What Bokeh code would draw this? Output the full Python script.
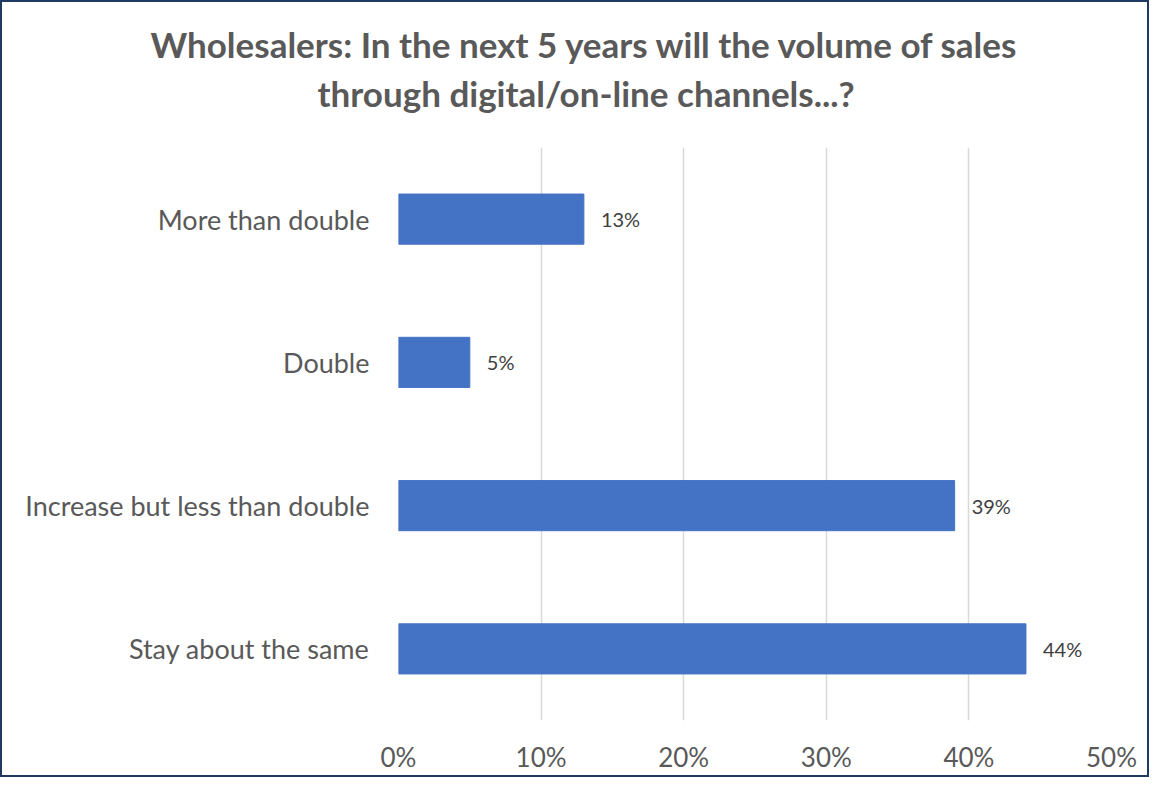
from bokeh.plotting import figure
from bokeh.models import FactorRange, Range1d, FixedTicker, ColumnDataSource, LabelSet, Title
from bokeh.core.properties import value
from bokeh.embed import file_html
from bokeh.resources import INLINE

categories = ["More than double", "Double", "Increase but less than double", "Stay about the same"]
values = [13, 5, 39, 44]
value_labels = ["13%", "5%", "39%", "44%"]
tick_values = [0, 10, 20, 30, 40, 50]
tick_labels = ["0%", "10%", "20%", "30%", "40%", "50%"]
title_lines = ["Wholesalers: In the next 5 years will the volume of sales",
               "through digital/on-line channels...?"]

FONT = "Lato"
GREY = "#595959"

ML, MR, MT, MB = 396, 36, 145, 55
FW, FH = 713, 573

src = ColumnDataSource(dict(cat=categories, val=values, lab=value_labels))

p = figure(frame_width=FW, frame_height=FH, output_backend="svg", toolbar_location=None,
           y_range=FactorRange(factors=list(reversed(categories)), range_padding=0),
           x_range=Range1d(0, 50),
           min_border_left=ML, min_border_right=MR, min_border_top=MT, min_border_bottom=MB)

p.hbar(y="cat", right="val", left=0, height=0.35, source=src, color="#4472C4")
p.add_layout(LabelSet(x="val", y="cat", text="lab", source=src, x_offset=17,
                      text_baseline="middle", text_font_size="20px",
                      text_color="#404040", text_font=value(FONT)))

p.title = None
# spacer between the frame and the title lines
p.add_layout(Title(text=" ", text_font_size="1px", standoff=28), "above")
# second line (closer to the frame), then first line
p.add_layout(Title(text=title_lines[1], align="left", offset=-81, standoff=5,
                   text_font_size="35px", text_font_style="bold", text_color=GREY,
                   text_font=FONT), "above")
p.add_layout(Title(text=title_lines[0], align="left", offset=-248, standoff=5,
                   text_font_size="35px", text_font_style="bold", text_color=GREY,
                   text_font=FONT), "above")

p.xaxis.ticker = FixedTicker(ticks=tick_values)
p.xaxis.major_label_overrides = dict(zip(tick_values, tick_labels))
for ax in (p.xaxis, p.yaxis):
    ax.axis_line_color = None
    ax.major_tick_line_color = None
    ax.minor_tick_line_color = None
    ax.major_label_text_font = FONT
    ax.major_label_text_color = GREY
p.xaxis.major_label_text_font_size = "26px"
p.yaxis.major_label_text_font_size = "27px"
p.xaxis.major_label_standoff = 14
p.yaxis.major_label_standoff = 23

p.xgrid.grid_line_color = "#d9d9d9"
p.xgrid.grid_line_width = 1.5
p.ygrid.grid_line_color = None
p.outline_line_color = None
p.background_fill_color = "white"
p.border_fill_color = "white"
p.styles = {"border": "2px solid #1F3864"}

open("out.html", "w").write(file_html(p, INLINE))
